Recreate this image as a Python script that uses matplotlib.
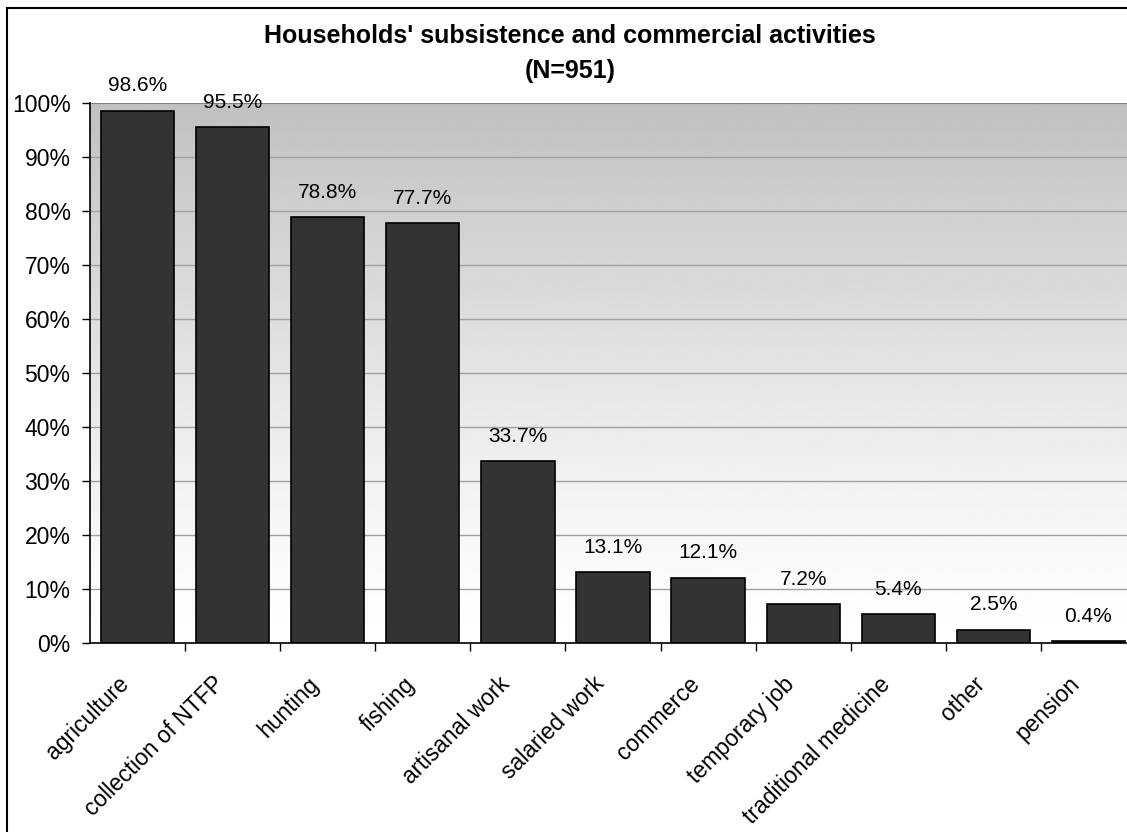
import numpy as np
import matplotlib.pyplot as plt
from matplotlib.patches import Rectangle
from matplotlib.transforms import ScaledTranslation

plt.rcParams['font.family'] = ['Liberation Sans', 'DejaVu Sans']

# household activities, share of households (%)
activities = ['agriculture', 'collection of NTFP', 'hunting', 'fishing',
              'artisanal work', 'salaried work', 'commerce', 'temporary job',
              'traditional medicine', 'other', 'pension']
shares = [98.6, 95.5, 78.8, 77.7, 33.7, 13.1, 12.1, 7.2, 5.4, 2.5, 0.4]
yticks = list(range(0, 101, 10))

W, H = 1127, 832
fig = plt.figure(figsize=(W / 100, H / 100), dpi=100)
fig.patch.set_facecolor('white')

# plot area runs a little past the right edge of the figure
ax = fig.add_axes([90 / W, (H - 643) / H, (1136 - 90) / W, (643 - 103) / H])

# grey-to-white background
shade = np.linspace(0, 1, 256) ** 1.25
grad = (1.0 - 0.247 * shade).reshape(-1, 1)
ax.imshow(grad, extent=[-0.5, len(activities) - 0.5, 0, 100], origin='lower',
          aspect='auto', cmap='gray', vmin=0, vmax=1, zorder=0)

for y in yticks[1:]:
    ax.axhline(y, color='#a0a0a0' if y < 100 else '#808080',
               lw=1.0 if y < 100 else 1.5, zorder=1)

x = np.arange(len(activities))
ax.bar(x, shares, width=0.77, color='#333333', edgecolor='black', lw=1.2, zorder=2)

for xi, v in zip(x, shares):
    ax.annotate(f'{v:.1f}%', (xi, v), xytext=(0, 11), textcoords='offset points',
                ha='center', va='bottom', fontsize=15, zorder=3)

ax.set_xlim(-0.5, len(activities) - 0.5)
ax.set_ylim(0, 100)
ax.set_yticks(yticks)
ax.set_yticklabels([f'{t}%' for t in yticks], fontsize=16.5)
ax.tick_params(axis='y', length=6, width=1, pad=8)

ax.set_xticks(x)
ax.set_xticklabels(activities, rotation=45, ha='right', rotation_mode='anchor',
                   fontsize=16.5)
ax.tick_params(axis='x', length=0, pad=14)
shift = ScaledTranslation(-0.20, -0.10, fig.dpi_scale_trans)
for lbl in ax.get_xticklabels():
    lbl.set_transform(lbl.get_transform() + shift)
ax.set_xticks(np.arange(0.5, len(activities) - 0.5, 1), minor=True)
ax.tick_params(axis='x', which='minor', length=6, width=1, direction='out')

for side in ['top', 'right']:
    ax.spines[side].set_visible(False)
for side in ['left', 'bottom']:
    ax.spines[side].set_color('black')
    ax.spines[side].set_linewidth(1.2)

fig.text(570 / W, 1 - 43 / H, "Households' subsistence and commercial activities",
         ha='center', va='baseline', fontsize=18, fontweight='bold')
fig.text(570 / W, 1 - 78 / H, '(N=951)',
         ha='center', va='baseline', fontsize=18, fontweight='bold')

# chart frame
fig.patches.append(Rectangle((7 / W, -0.2), 2, (H - 8) / H + 0.2,
                             transform=fig.transFigure, fill=False,
                             edgecolor='black', lw=1.5))

fig.savefig('out.png', dpi=100)
